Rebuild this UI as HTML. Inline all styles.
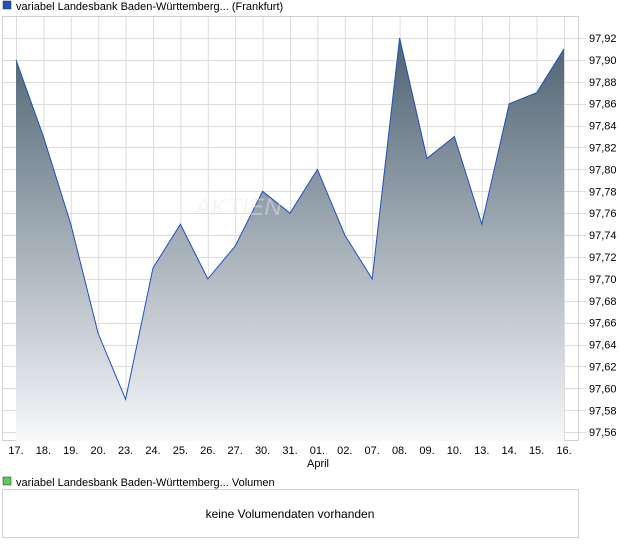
<!DOCTYPE html>
<html><head><meta charset="utf-8"><style>
body{margin:0;background:#fff;width:620px;height:546px;overflow:hidden;font-family:"Liberation Sans",sans-serif;}
</style></head><body>
<svg width="620" height="546" xmlns="http://www.w3.org/2000/svg" font-family="Liberation Sans, sans-serif" font-size="11">
<defs><linearGradient id="g" x1="0" y1="38" x2="0" y2="441" gradientUnits="userSpaceOnUse">
<stop offset="0" stop-color="#4e6272"/><stop offset="1" stop-color="#f7f8fa"/></linearGradient></defs>
<rect x="3" y="1" width="8" height="8" fill="#1f4fc0" stroke="#333" stroke-width="0.5"/>
<text x="16" y="10">variabel Landesbank Baden-Württemberg... (Frankfurt)</text>
<g id="grid" stroke="#dcdcdc" stroke-width="1"></g>
<rect x="2.5" y="16.5" width="576" height="424" fill="none" stroke="#d0d0d0"/>
<path id="area" fill="url(#g)"/>
<polyline id="line" fill="none" stroke="#1f4fc0" stroke-width="1"/>
<g id="yl" fill="#000"></g>
<g id="xl" fill="#000"></g>
<text x="307" y="467">April</text>
<text x="195" y="215" font-size="24" font-style="italic" fill="#e9e9e9" opacity="0.45">AKTIEN</text>
<rect x="3" y="477" width="8" height="8" fill="#5cc85c" stroke="#333" stroke-width="0.5"/>
<text x="16" y="486">variabel Landesbank Baden-Württemberg... Volumen</text>
<rect x="2.5" y="489.5" width="576" height="48" fill="none" stroke="#d0d0d0"/>
<text x="290" y="518" font-size="12" text-anchor="middle">keine Volumendaten vorhanden</text>
</svg>
<script>
var v=[97.90,97.83,97.75,97.65,97.59,97.71,97.75,97.70,97.73,97.78,97.76,97.80,97.74,97.70,97.92,97.81,97.83,97.75,97.86,97.87,97.91];
var lb=["17.","18.","19.","20.","23.","24.","25.","26.","27.","30.","31.","01.","02.","07.","08.","09.","10.","13.","14.","15.","16."];
function Y(x){return 38+(97.92-x)/0.02*21.9;}
function X(i){return 16+i*27.4;}
var g=document.getElementById('grid'),s='';
for(var i=0;i<21;i++)s+='<line x1="'+(X(i)+.5)+'" y1="17" x2="'+(X(i)+.5)+'" y2="441"/>';
for(var k=0;k<=18;k++){var y=Math.round(Y(97.92-k*0.02))+.5;s+='<line x1="3" y1="'+y+'" x2="586" y2="'+y+'"/>';}
g.innerHTML=s;
var yl='';for(var k=0;k<=18;k++){var val=(97.92-k*0.02).toFixed(2).replace('.',',');yl+='<text x="589" y="'+(Y(97.92-k*0.02)+4)+'">'+val+'</text>';}
document.getElementById('yl').innerHTML=yl;
var xl='';for(var i=0;i<21;i++)xl+='<text x="'+X(i)+'" y="454" text-anchor="middle">'+lb[i]+'</text>';
document.getElementById('xl').innerHTML=xl;
var p=v.map(function(a,i){return X(i)+','+Y(a)}).join(' ');
document.getElementById('line').setAttribute('points',p);
document.getElementById('area').setAttribute('d','M'+X(0)+',441 L'+p.split(' ').join(' L')+' L'+X(20)+',441 Z');
</script>
</body></html>
